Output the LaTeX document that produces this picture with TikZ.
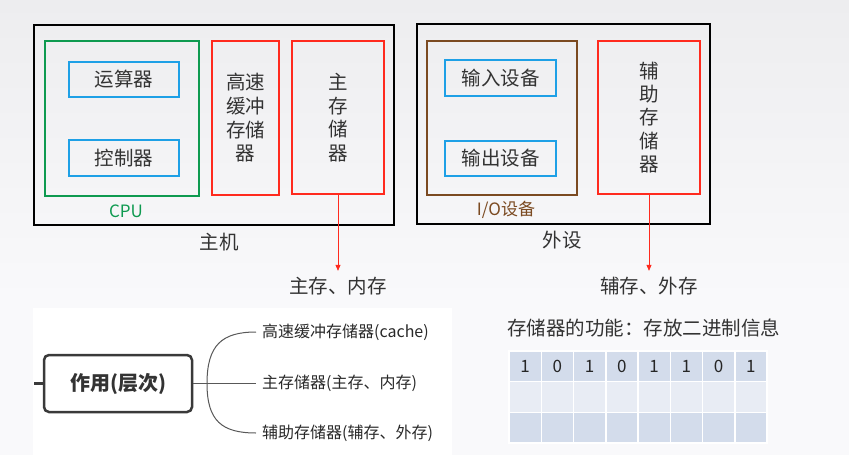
\documentclass[tikz,border=0pt]{standalone}
\usepackage{fontspec}
\setmainfont{Noto Sans CJK SC}
\usetikzlibrary{arrows.meta}
\definecolor{bgtop}{HTML}{EDEDEF}
\definecolor{bgbot}{HTML}{F9F9FB}
\definecolor{cpugreen}{HTML}{0E9A50}
\definecolor{unitblue}{HTML}{1EA0E6}
\definecolor{memred}{HTML}{FF2A1E}
\definecolor{iobrown}{HTML}{7B4A21}
\definecolor{txt}{HTML}{333333}
\definecolor{mmline}{HTML}{3A3A3A}
\definecolor{rowdark}{HTML}{D3DCEB}
\definecolor{rowlight}{HTML}{E8ECF4}
\tikzset{
  frame/.style={draw, rectangle, inner sep=0pt, line width=2.2pt},
  btxt/.style={font=\fontsize{19.5}{23.7}\selectfont, text=txt, align=center},
  sublbl/.style={font=\fontsize{17}{20}\selectfont, inner sep=0pt},
  redarr/.style={draw=memred, line width=0.7pt, -{Triangle[length=6pt,width=5pt]}},
  mmtxt/.style={font=\fontsize{16}{20}\selectfont, text=txt!80!black, anchor=west, inner sep=0pt},
  mmline/.style={draw=mmline!85, line width=1pt},
  cell/.style={rectangle, draw=white, line width=1.5pt, minimum width=32.25pt, minimum height=30.67pt, inner sep=0pt, font=\fontsize{17}{20}\selectfont, text=black!85},
}
\begin{document}
\begin{tikzpicture}[x=1pt,y=-1pt]
\shade[top color=bgtop, bottom color=bgbot] (0,0) rectangle (849,300);
\fill[bgbot] (0,300) rectangle (849,455);
\fill[white] (33,308) rectangle (452,455);
\useasboundingbox (0,0) rectangle (849,455);

% ---------- host ----------
\node[frame, draw=black, minimum width=360pt, minimum height=200pt] (host) at (214,125) {};
\node[frame, draw=cpugreen, minimum width=154pt, minimum height=155pt] (cpu) at (122,118.5) {};
\node[frame, draw=unitblue, minimum width=110pt, minimum height=35pt, btxt] (alu) at (124,79.5) {运算器};
\node[frame, draw=unitblue, minimum width=110pt, minimum height=36pt, btxt] (ctrl) at (124,158) {控制器};
\node[sublbl, text=cpugreen] (cpulbl) at (126,211) {CPU};
\node[frame, draw=memred, minimum width=67pt, minimum height=154pt, btxt] (cache) at (245.5,118) {高速\\缓冲\\存储\\器};
\node[frame, draw=memred, minimum width=92pt, minimum height=153pt, btxt] (mem) at (338,117.5) {主\\存\\储\\器};
\node[btxt, inner sep=0pt] (hostlbl) at (219,242) {主机};

% ---------- peripherals ----------
\node[frame, draw=black, minimum width=293pt, minimum height=200pt] (periph) at (563.5,124) {};
\node[frame, draw=iobrown, minimum width=150pt, minimum height=154pt] (io) at (502,118) {};
\node[frame, draw=unitblue, minimum width=111pt, minimum height=36pt, btxt] (inp) at (500.5,78) {输入设备};
\node[frame, draw=unitblue, minimum width=111pt, minimum height=35pt, btxt] (outp) at (500.5,158.5) {输出设备};
\node[sublbl, text=iobrown] (iolbl) at (506,210) {I/O设备};
\node[frame, draw=memred, minimum width=102pt, minimum height=153pt, btxt, font=\fontsize{19.5}{23.3}\selectfont] (aux) at (649,117.5) {辅\\助\\存\\储\\器};
\node[btxt, inner sep=0pt] (periphlbl) at (562,240) {外设};

% ---------- arrows ----------
\node[btxt, inner sep=0pt] (memlbl) at (338,286) {主存、内存};
\node[btxt, inner sep=0pt] (auxlbl) at (649,286) {辅存、外存};
\draw[redarr, shorten >=6pt] (mem.south) -- (memlbl.north -| mem.south);
\draw[redarr, shorten >=6pt] (aux.south) -- (auxlbl.north -| aux.south);

% ---------- mind map ----------
\node[draw=mmline, line width=2.5pt, rounded corners=5pt, minimum width=148pt, minimum height=57pt, inner sep=0pt, font=\bfseries\fontsize{20}{24}\selectfont, text=txt] (role) at (118,383.5) {作用(层次)};
\coordinate (stub) at (34,383.5);
\draw[draw=mmline, line width=2.5pt] (stub) -- (role.west);
\coordinate (fork) at (207,383.5);
\node[mmtxt] (m1) at (262,332) {高速缓冲存储器(cache)};
\node[mmtxt] (m2) at (262,383.5) {主存储器(主存、内存)};
\node[mmtxt] (m3) at (262,433) {辅助存储器(辅存、外存)};
\draw[mmline] (role.east) -- (fork);
\draw[mmline] (fork) .. controls (207,345) and (222,332) .. ([xshift=-6pt]m1.west);
\draw[mmline] (fork) -- ([xshift=-6pt]m2.west);
\draw[mmline] (fork) .. controls (207,421) and (222,433) .. ([xshift=-6pt]m3.west);

% ---------- storage ----------
\node[font=\fontsize{19.5}{24}\selectfont, text=txt, anchor=west, inner sep=0pt] (func) at (507,328) {存储器的功能：存放二进制信息};
\foreach \d [count=\c] in {1,0,1,0,1,1,0,1} {
  \node[cell, fill=rowdark] (r1c\c) at ({509+(\c-0.5)*32.25},{351+0.5*30.67}) {\d};
  \node[cell, fill=rowlight] (r2c\c) at ({509+(\c-0.5)*32.25},{351+1.5*30.67}) {};
  \node[cell, fill=rowdark] (r3c\c) at ({509+(\c-0.5)*32.25},{351+2.5*30.67}) {};
}
\end{tikzpicture}
\end{document}
